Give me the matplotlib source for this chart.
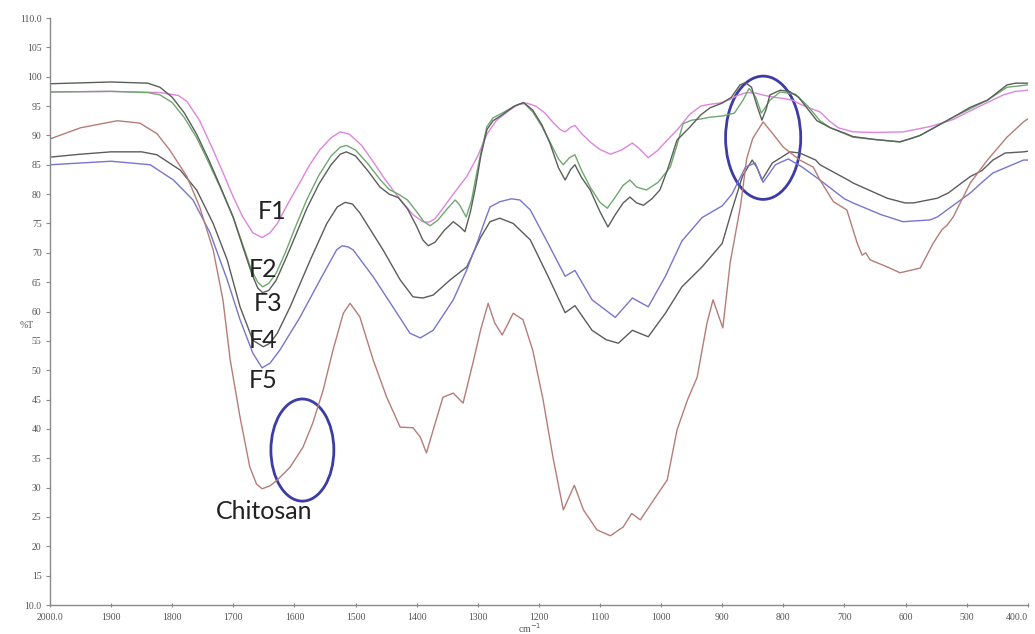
import matplotlib
matplotlib.use("Agg")
import matplotlib.pyplot as plt
import matplotlib.transforms as mtransforms
from matplotlib.patches import Ellipse
import numpy as np

# FTIR spectra, %T vs wavenumber (cm-1)
f1_wn = [2000, 1900, 1820, 1790, 1776, 1755, 1733, 1715, 1700, 1685, 1668, 1653, 1640, 1628, 1610,
         1591, 1575, 1558, 1540, 1525, 1510, 1490, 1471, 1455, 1439, 1420, 1406, 1390, 1380, 1370,
         1357, 1340, 1318, 1300, 1285, 1270, 1252, 1235, 1220, 1205, 1190, 1175, 1165, 1157, 1148,
         1141, 1130, 1115, 1100, 1083, 1065, 1047, 1035, 1021, 1005, 990, 974, 953, 935, 920, 905,
         890, 875, 860, 845, 830, 815, 800, 785, 770, 755, 740, 725, 710, 686, 650, 604, 560, 522,
         490, 466, 440, 420, 400]
f1_t = [97.4, 97.5, 97.3, 96.8, 95.8, 92.5, 87.5, 83.2, 79.5, 76.2, 73.4, 72.6, 73.4, 75.0, 78.5,
        82.0, 85.0, 87.6, 89.6, 90.6, 90.2, 88.3, 85.5, 83.0, 80.7, 78.2, 76.5, 75.3, 75.2, 75.8,
        77.6, 80.0, 83.0, 86.5, 90.2, 92.5, 94.0, 95.2, 95.5, 95.0, 93.8, 92.0, 91.0, 90.6, 91.4,
        91.7, 90.3, 88.8, 87.6, 86.8, 87.5, 88.7, 87.7, 86.2, 87.5, 89.2, 90.9, 93.6, 95.0, 95.3, 95.5,
        96.0, 96.8, 97.3, 97.2, 96.8, 96.5, 96.3, 96.0, 95.2, 94.6, 94.0, 92.5, 91.3, 90.6, 90.5, 90.6,
        91.5, 92.7, 94.4, 95.6, 96.9, 97.5, 97.7]

f2_wn = [2000, 1900, 1840, 1820, 1800, 1780, 1760, 1740, 1720, 1700, 1685, 1670, 1660, 1652, 1642,
         1630, 1615, 1600, 1580, 1560, 1540, 1525, 1515, 1500, 1480, 1460, 1445, 1430, 1415, 1400,
         1388, 1378, 1365, 1350, 1337, 1330, 1319, 1310, 1304, 1295, 1285, 1275, 1260, 1240, 1225,
         1210, 1195, 1180, 1168, 1160, 1150, 1141, 1130, 1115, 1100, 1088, 1075, 1062, 1051, 1040,
         1024, 1005, 985, 975, 964, 950, 935, 920, 900, 880, 866, 856, 845, 836, 828, 822, 805, 780,
         760, 740, 723, 686, 640, 609, 576, 522, 466, 434, 400]
f2_t = [97.4, 97.5, 97.3, 96.9, 95.6, 93.0, 89.6, 85.3, 80.8, 76.0, 71.5, 67.0, 65.0, 64.2, 64.8,
        66.5, 70.0, 74.0, 79.0, 83.2, 86.5, 88.0, 88.3, 87.5, 85.2, 82.5, 80.8, 80.0, 79.0, 77.0,
        75.3, 74.6, 75.6, 77.5, 79.0, 78.2, 76.1, 79.0, 82.4, 87.0, 91.5, 93.0, 93.8, 95.0, 95.6,
        94.0, 91.5, 88.5, 86.0, 85.0, 86.2, 86.7, 84.0, 81.0, 78.6, 77.6, 79.5, 81.5, 82.4, 81.2,
        80.7, 82.0, 84.6, 88.0, 92.0, 92.6, 92.8, 93.1, 93.3, 93.8, 96.0, 98.0, 96.5, 93.8, 95.0,
        96.0, 97.4, 97.0, 95.0, 92.5, 91.3, 89.7, 89.2, 88.9, 90.0, 93.1, 96.0, 98.2, 98.6]

f3_wn = [2000, 1900, 1840, 1820, 1800, 1780, 1760, 1740, 1720, 1700, 1685, 1670, 1660, 1652, 1642,
         1630, 1615, 1600, 1580, 1560, 1540, 1525, 1515, 1500, 1480, 1460, 1445, 1430, 1415, 1400,
         1390, 1381, 1370, 1355, 1340, 1330, 1321, 1312, 1304, 1295, 1285, 1275, 1260, 1240, 1225,
         1210, 1195, 1182, 1168, 1157, 1148, 1141, 1130, 1116, 1100, 1087, 1075, 1062, 1051, 1040,
         1029, 1015, 1002, 990, 974, 953, 935, 920, 900, 885, 871, 862, 852, 843, 835, 828, 822, 805,
         790, 775, 760, 745, 723, 700, 686, 650, 609, 590, 576, 550, 522, 494, 466, 434, 420, 400]
f3_t = [98.8, 99.1, 98.9, 98.2, 96.5, 93.8, 90.2, 85.8, 81.0, 76.0, 71.2, 66.5, 64.0, 63.2, 63.6,
        65.3, 68.8, 72.5, 77.5, 81.7, 85.0, 86.8, 87.2, 86.5, 84.0, 81.2, 80.0, 79.4, 77.5, 74.5,
        72.2, 71.2, 71.8, 73.8, 75.3, 74.5, 73.6, 77.0, 81.0, 86.5, 91.0, 92.5, 93.5, 95.0, 95.6,
        94.3, 91.8, 88.7, 84.5, 82.4, 84.2, 85.0, 82.8, 80.7, 77.0, 74.4, 76.5, 78.5, 79.5, 78.5,
        78.1, 79.2, 80.7, 84.0, 89.2, 91.4, 93.5, 94.7, 95.5, 96.5, 98.6, 99.0, 98.2, 95.0, 92.6,
        94.5, 96.9, 97.7, 97.5, 96.5, 94.5, 92.5, 91.3, 90.4, 89.8, 89.3, 88.9, 89.5, 90.0, 91.5,
        93.1, 94.8, 96.0, 98.6, 98.9, 98.9]

f4_wn = [2000, 1950, 1900, 1850, 1825, 1787, 1760, 1733, 1710, 1689, 1668, 1651, 1640, 1628, 1607,
         1574, 1547, 1530, 1517, 1505, 1493, 1455, 1427, 1406, 1390, 1373, 1345, 1318, 1296, 1280,
         1264, 1242, 1214, 1185, 1157, 1141, 1113, 1090, 1070, 1047, 1021, 993, 966, 933, 900, 884,
         867, 851, 843, 835, 818, 789, 773, 747, 740, 694, 686, 630, 601, 587, 548, 530, 494, 475,
         457, 437, 407, 400]
f4_t = [86.3, 86.8, 87.2, 87.2, 86.7, 84.1, 80.7, 75.0, 68.8, 60.8, 55.1, 54.0, 54.6, 56.3, 60.8,
        68.8, 75.0, 77.8, 78.6, 78.3, 76.8, 70.5, 65.4, 62.5, 62.3, 62.8, 65.4, 67.6, 72.5, 75.3,
        75.9, 75.0, 72.2, 66.0, 59.8, 61.0, 56.8, 55.2, 54.6, 56.8, 55.7, 59.7, 64.2, 67.6, 71.6, 77.3,
        83.0, 85.8, 84.5, 82.4, 85.3, 87.2, 87.0, 85.8, 85.0, 82.4, 81.9, 79.3, 78.5, 78.5, 79.3,
        80.2, 83.0, 84.0, 85.8, 87.0, 87.2, 87.3]

f5_wn = [2000, 1900, 1836, 1798, 1766, 1738, 1710, 1689, 1668, 1653, 1640, 1624, 1591, 1558, 1531,
         1522, 1512, 1504, 1471, 1439, 1411, 1394, 1373, 1340, 1318, 1300, 1290, 1280, 1264, 1245,
         1231, 1214, 1185, 1157, 1141, 1113, 1075, 1047, 1021, 993, 966, 933, 900, 884, 862, 846, 833,
         813, 792, 769, 740, 700, 686, 640, 604, 560, 548, 494, 475, 457, 407, 400]
f5_t = [85.0, 85.6, 85.0, 82.4, 79.0, 73.4, 65.4, 58.6, 52.9, 50.4, 51.2, 53.4, 59.0, 65.4, 70.5,
        71.2, 71.0, 70.5, 65.9, 60.8, 56.3, 55.5, 56.8, 62.0, 67.1, 72.0, 75.0, 77.8, 78.7, 79.2,
        79.0, 77.3, 71.6, 66.0, 67.0, 62.0, 59.0, 62.3, 60.8, 66.0, 72.0, 76.0, 78.0, 80.0, 84.6,
        85.3, 82.0, 85.0, 86.0, 84.6, 82.4, 79.2, 78.5, 76.5, 75.3, 75.6, 76.1, 80.2, 82.0, 83.6,
        85.8, 85.8]

chit_wn = [2000, 1950, 1890, 1853, 1825, 1804, 1776, 1755, 1733, 1717, 1705, 1689, 1673, 1662, 1653,
           1640, 1628, 1607, 1586, 1570, 1553, 1537, 1520, 1509, 1493, 1471, 1449, 1427, 1406, 1394,
           1384, 1373, 1357, 1340, 1324, 1308, 1295, 1283, 1272, 1260, 1242, 1226, 1210, 1193, 1177,
           1160, 1142, 1127, 1105, 1083, 1062, 1048, 1034, 1007, 990, 974, 957, 941, 925, 915, 899,
           887, 870, 860, 850, 833, 815, 800, 773, 751, 740, 718, 696, 679, 671, 665, 658, 630, 609,
           576, 555, 540, 532, 522, 494, 466, 434, 407, 400]
chit_t = [89.4, 91.3, 92.5, 92.1, 90.3, 87.5, 83.0, 77.8, 70.5, 62.0, 51.7, 42.0, 33.5, 30.6, 29.8,
          30.3, 31.3, 33.5, 36.9, 41.0, 46.6, 53.4, 59.7, 61.4, 59.1, 51.7, 45.4, 40.3, 40.2, 38.6,
          35.9, 39.8, 45.4, 46.1, 44.4, 51.2, 57.0, 61.4, 58.0, 56.0, 59.7, 58.6, 53.4, 44.9, 35.2,
          26.2, 30.4, 26.2, 22.8, 21.8, 23.3, 25.6, 24.5, 28.7, 31.3, 39.8, 44.9, 48.8, 58.0, 62.0, 57.2,
          68.3, 78.0, 86.0, 89.5, 92.3, 90.0, 88.0, 85.8, 84.6, 82.4, 78.7, 77.3, 71.6, 69.6, 70.0,
          68.8, 67.6, 66.6, 67.4, 71.6, 74.0, 74.7, 76.1, 81.9, 85.8, 89.7, 92.3, 92.8]

x_ticks = np.arange(2000, 399, -100)
x_labels = ["2000.0"] + [str(v) for v in range(1900, 400, -100)] + ["400.0"]
y_ticks = np.arange(10, 111, 5)
y_labels = ["10.0"] + [str(v) for v in range(15, 110, 5)] + ["110.0"]

curve_labels = ["F1", "F2", "F3", "F4", "F5", "Chitosan"]
label_pos = [(1637, 77.0), (1651, 67.1), (1643, 61.4), (1651, 55.0), (1651, 48.2), (1650, 26.0)]

fig = plt.figure(figsize=(10.35, 6.34), dpi=100)
ax = fig.add_axes([0.0483, 0.0457, 0.9447, 0.9259])

ax.plot(f1_wn, f1_t, color="#dd85dd", lw=1.0)
ax.plot(f2_wn, f2_t, color="#6fa86f", lw=1.0)
ax.plot(f3_wn, f3_t, color="#5a5f5a", lw=1.0)
ax.plot(f4_wn, f4_t, color="#5c5c5c", lw=1.0)
ax.plot(f5_wn, f5_t, color="#7676cc", lw=1.0)
ax.plot(chit_wn, chit_t, color="#b57d78", lw=1.0)

for name, (x, y) in zip(curve_labels, label_pos):
    ax.text(x, y, name, fontsize=18, family=["Lato", "DejaVu Sans"], color="#222222",
            ha="center", va="center")

# regions of interest
ax.add_patch(Ellipse((1587, 36.4), 103, 17.4, fill=False, ec="#3c3ca6", lw=2))
ax.add_patch(Ellipse((833, 89.6), 123, 21.0, fill=False, ec="#3c3ca6", lw=2))

ax.set_xlim(2000, 400)
ax.set_ylim(10, 110)
ax.set_xticks(x_ticks)
ax.set_xticklabels(x_labels)
ax.set_yticks(y_ticks)
ax.set_yticklabels(y_labels)
for lab in ax.get_xticklabels() + ax.get_yticklabels():
    lab.set_family("Liberation Serif")
    lab.set_fontsize(7)
    lab.set_color("#555555")
ax.tick_params(axis="x", direction="inout", length=3, width=0.8, color="#888888", pad=4)
ax.tick_params(axis="y", direction="out", length=3, width=0.8, color="#888888", pad=3)

# keep the last x label inside the figure
last = ax.get_xticklabels()[-1]
last.set_transform(last.get_transform() + mtransforms.ScaledTranslation(-8 / 72, 0, fig.dpi_scale_trans))

for side in ["top", "right"]:
    ax.spines[side].set_visible(False)
for side in ["left", "bottom"]:
    ax.spines[side].set_color("#8a8a8a")
    ax.spines[side].set_linewidth(1.0)

fig.text(27 / 1035, 1 - 325 / 634, "%T", fontsize=7, family="Liberation Serif",
         color="#555555", ha="center", va="center")
fig.text(530 / 1035, 1 - 628 / 634, "cm$^{-1}$", fontsize=7, family="Liberation Serif",
         color="#555555", ha="center", va="center")

fig.savefig("out.png", dpi=100, facecolor="white")
